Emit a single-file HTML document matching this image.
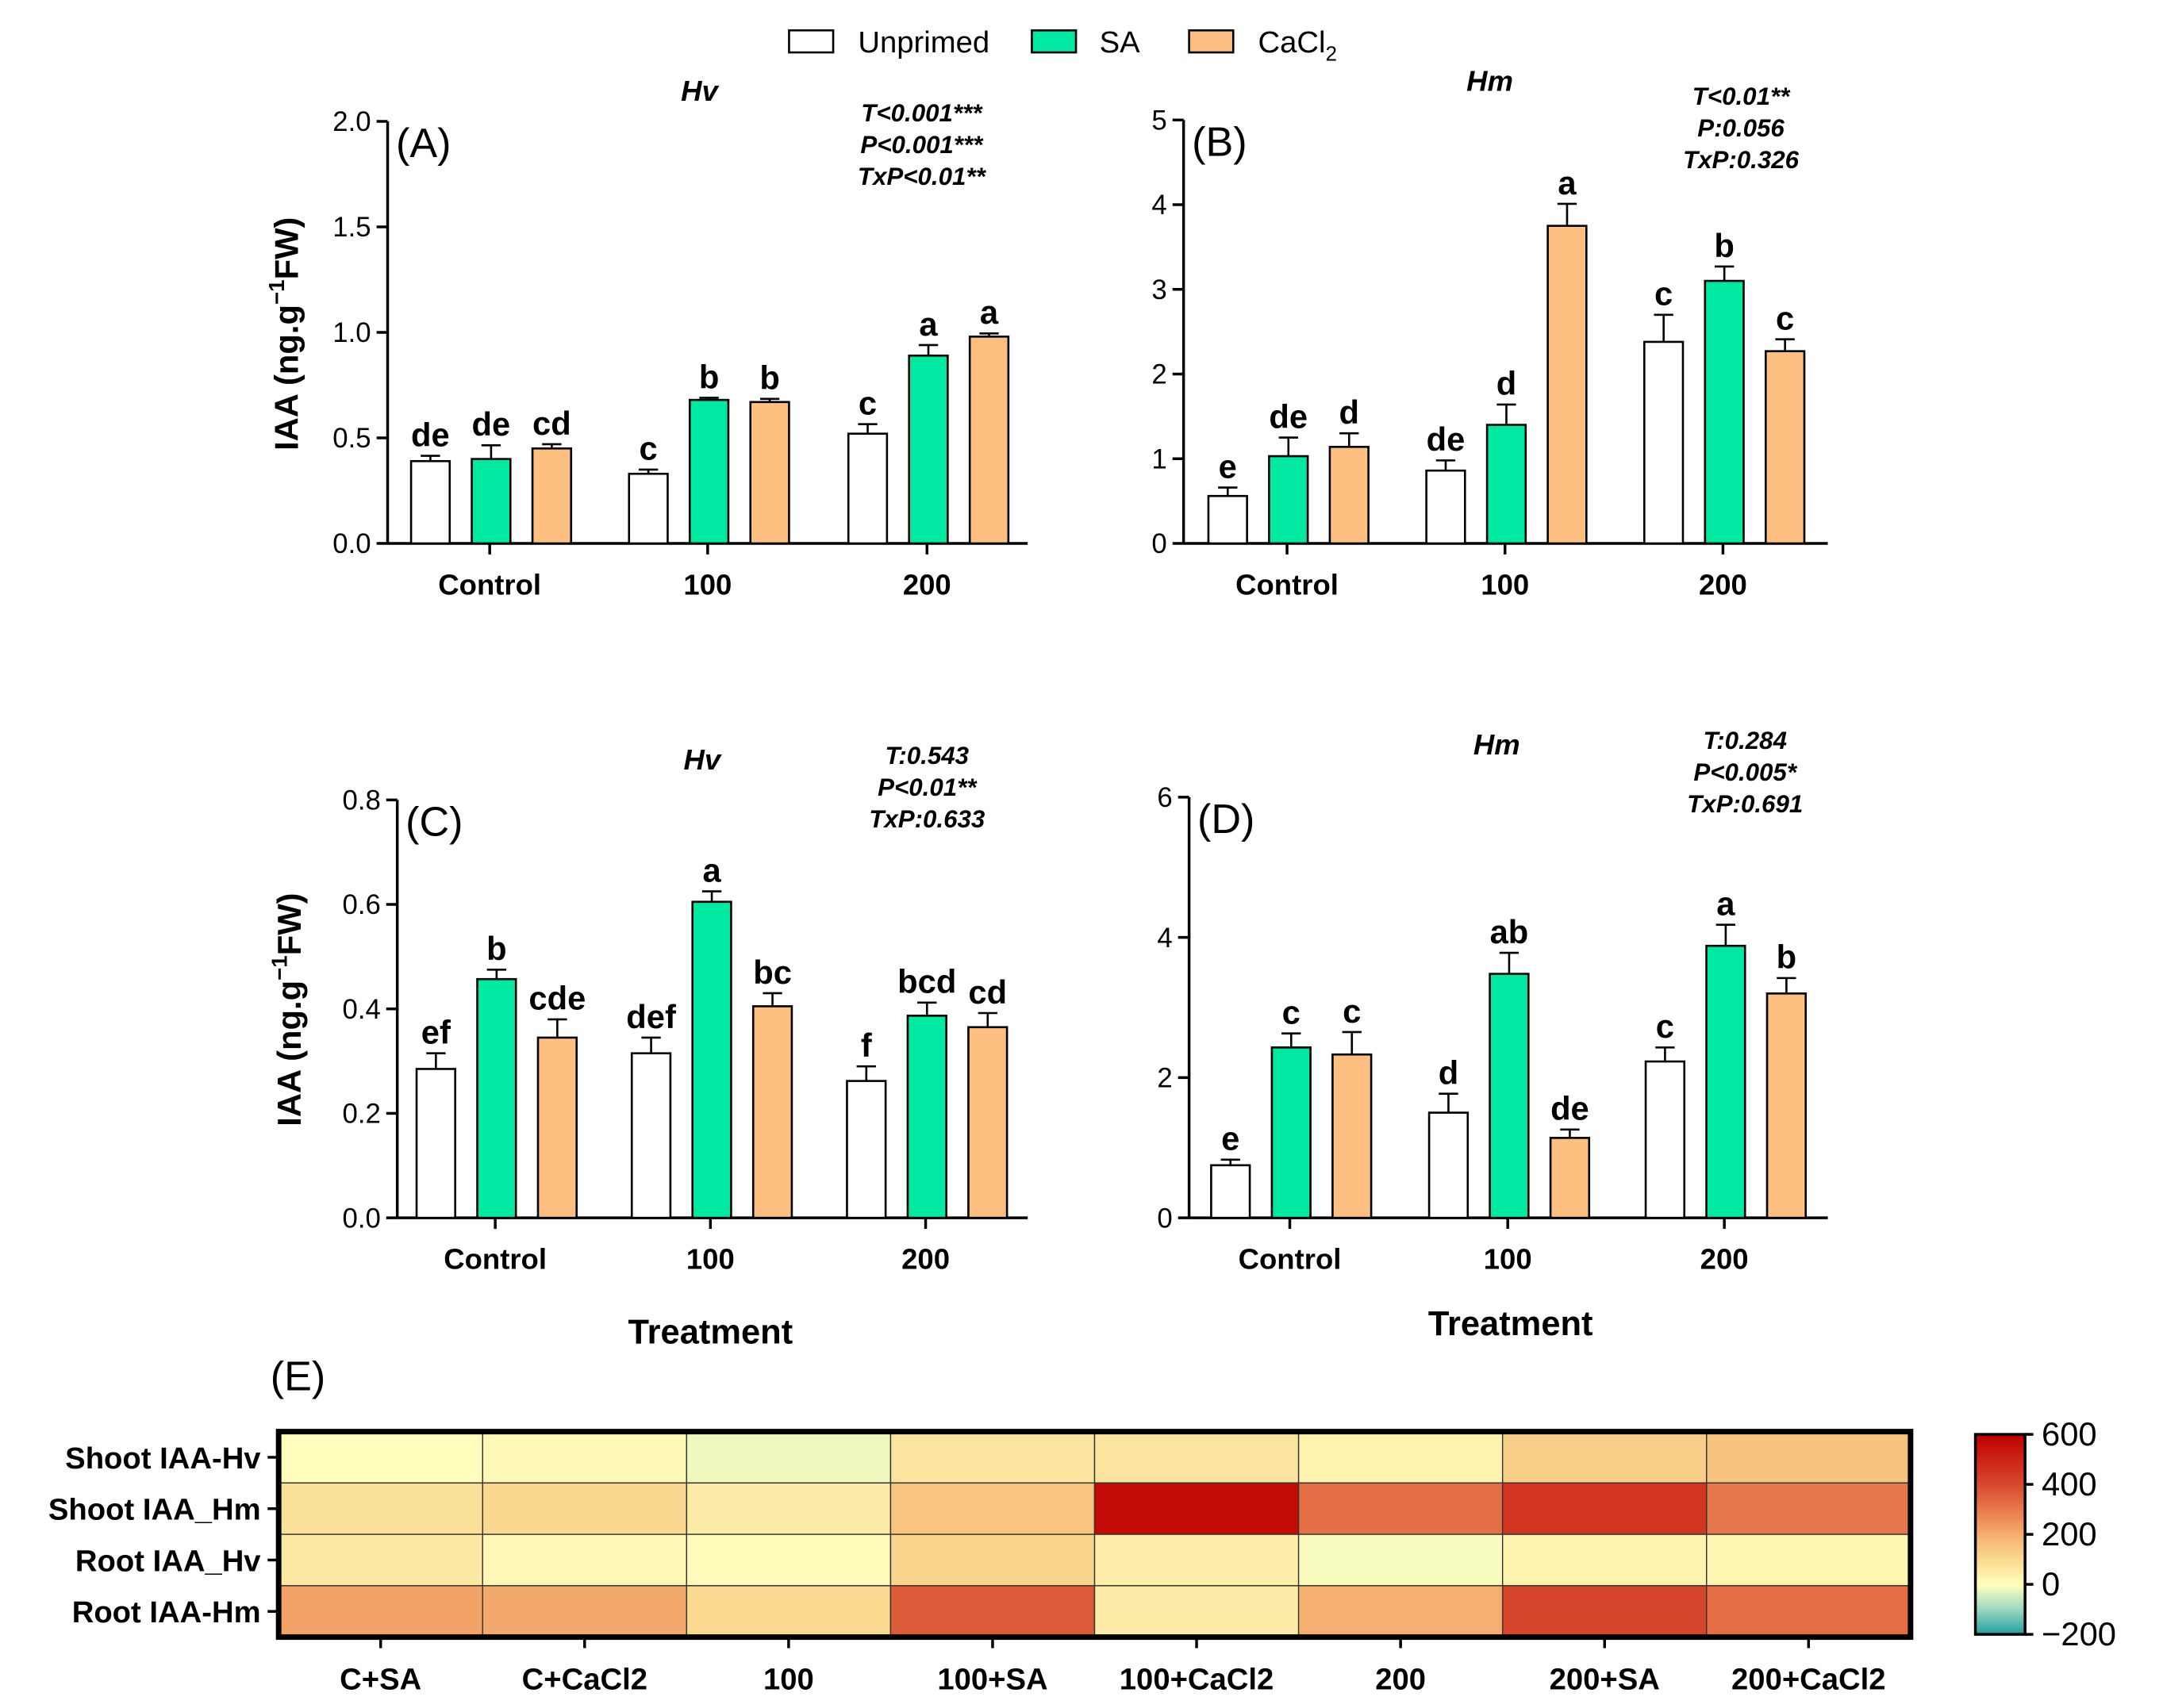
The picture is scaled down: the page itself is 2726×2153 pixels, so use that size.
<!DOCTYPE html>
<html><head><meta charset="utf-8"><style>
html,body{margin:0;padding:0;background:#fff}
svg{display:block;font-family:"Liberation Sans",Arial,sans-serif}
</style></head><body>
<svg id="chart" width="2726" height="2153" viewBox="0 0 1568 1238.4" xmlns="http://www.w3.org/2000/svg">
<g>
<rect x="572" y="22" width="32" height="16" fill="#fff" stroke="#000" stroke-width="1.5"/>
<text x="622" y="38" font-size="22">Unprimed</text>
<rect x="748" y="22" width="32" height="16" fill="#00e9a3" stroke="#000" stroke-width="1.5"/>
<text x="797" y="38" font-size="22">SA</text>
<rect x="862" y="22" width="32" height="16" fill="#ffbf80" stroke="#000" stroke-width="1.5"/>
<text x="912" y="38" font-size="22">CaCl<tspan font-size="15" dy="6">2</tspan></text>
</g>
</svg>
<script>
const groups=['Control','100','200'];
const seriesNames=['Unprimed','SA','CaCl2'];
const colors=['#ffffff','#00e9a3','#ffbf80'];
// Panel A
const aVals=[[0.39,0.33,0.52],[0.40,0.68,0.89],[0.45,0.67,0.98]];
const aErr=[[0.025,0.02,0.045],[0.065,0.01,0.05],[0.02,0.015,0.015]];
const aLet=[['de','c','c'],['de','b','a'],['cd','b','a']];
const aTicks=[0,0.5,1.0,1.5,2.0];
// Panel B
const bVals=[[0.56,0.86,2.38],[1.03,1.40,3.10],[1.14,3.75,2.27]];
const bErr=[[0.1,0.12,0.32],[0.22,0.24,0.17],[0.16,0.26,0.14]];
const bLet=[['e','de','c'],['de','d','b'],['d','a','c']];
const bTicks=[0,1,2,3,4,5];
// Panel C
const cVals=[[0.285,0.315,0.262],[0.457,0.605,0.387],[0.345,0.405,0.365]];
const cErr=[[0.03,0.03,0.028],[0.018,0.02,0.025],[0.035,0.025,0.027]];
const cLet=[['ef','def','f'],['b','a','bcd'],['cde','bc','cd']];
const cTicks=[0,0.2,0.4,0.6,0.8];
// Panel D
const dVals=[[0.75,1.50,2.23],[2.43,3.48,3.88],[2.33,1.14,3.20]];
const dErr=[[0.08,0.27,0.2],[0.2,0.3,0.3],[0.32,0.12,0.22]];
const dLet=[['e','d','c'],['c','ab','a'],['c','de','b']];
const dTicks=[0,2,4,6];
// Heatmap
const hmRows=['Shoot IAA-Hv','Shoot IAA_Hm','Root IAA_Hv','Root IAA-Hm'];
const hmCols=['C+SA','C+CaCl2','100','100+SA','100+CaCl2','200','200+SA','200+CaCl2'];
const hmVals=[[3,16,-15,74,72,33,128,151],[84,104,54,150,570,325,454,305],[60,21,10,112,42,-8,36,28],[224,211,100,364,52,197,417,327]];
const cbTicks=[600,400,200,0,-200];

const svg=document.getElementById('chart');
const NS='http://www.w3.org/2000/svg';
function mk(tag,attrs,parent,txt){const e=document.createElementNS(NS,tag);for(const k in attrs)e.setAttribute(k,attrs[k]);if(txt!==undefined)e.textContent=txt;(parent||svg).appendChild(e);return e;}

function panel(cfg){
  const g=mk('g',{});
  
  
  const max=cfg.ticks[cfg.ticks.length-1];
  const y=v=>cfg.y0-(v/max)*(cfg.y0-cfg.yTop);
  mk('line',{x1:cfg.x0,y1:cfg.y0,x2:cfg.x0,y2:cfg.yTop,stroke:'#000','stroke-width':2},g);
  mk('line',{x1:cfg.x0,y1:cfg.y0,x2:cfg.x1,y2:cfg.y0,stroke:'#000','stroke-width':2},g);
  cfg.ticks.forEach(t=>{
    mk('line',{x1:cfg.x0-8,y1:y(t),x2:cfg.x0,y2:y(t),stroke:'#000','stroke-width':2},g);
    const tl=mk('text',{x:cfg.x0-12,y:y(t)+7,'font-size':20,'text-anchor':'end'},g,cfg.fmt(t));
    
    
  });
  groups.forEach((gn,gi)=>{
    const cx=cfg.cx[gi];
    mk('line',{x1:cx,y1:cfg.y0,x2:cx,y2:cfg.y0+8,stroke:'#000','stroke-width':2},g);
    const xl=mk('text',{x:cx,y:cfg.y0+37,'font-size':21,'font-weight':'bold','text-anchor':'middle'},g,gn);
    
    
    for(let s=0;s<3;s++){
      const v=cfg.vals[s][gi],e=cfg.err[s][gi];
      const bx=cx-57+s*44;
      const r=mk('rect',{x:bx,y:y(v),width:28,height:cfg.y0-y(v),fill:colors[s],stroke:'#000','stroke-width':1.5},g);
      
      
      const bc=bx+14;
      mk('line',{x1:bc,y1:y(v),x2:bc,y2:y(v+e),stroke:'#000','stroke-width':1.5},g);
      mk('line',{x1:bc-7,y1:y(v+e),x2:bc+7,y2:y(v+e),stroke:'#000','stroke-width':1.5},g);
      const lt=mk('text',{x:bc,y:y(v+e)-7,'font-size':24,'font-weight':'bold','text-anchor':'middle'},g,cfg.lets[s][gi]);
      
      
    }
  });
  mk('text',{x:cfg.x0+6,y:cfg.yTop+26,'font-size':30},g,'('+cfg.id+')');
  mk('text',{x:cfg.titleX,y:cfg.titleY,'font-size':21,'font-weight':'bold','font-style':'italic','text-anchor':'middle'},g,cfg.title);
  cfg.stats.forEach((s,i)=>mk('text',{x:cfg.statX,y:cfg.statY+i*23,'font-size':18,'font-weight':'bold','font-style':'italic','text-anchor':'middle'},g,s));
  if(cfg.ylab){
    const t=mk('text',{transform:`translate(${cfg.ylabX},${cfg.ylabY}) rotate(-90)`,'font-size':24,'font-weight':'bold','text-anchor':'middle'},g);
    
    
    t.innerHTML='IAA (ng.g<tspan font-size="16" dy="-10">−1</tspan><tspan dy="10">FW)</tspan>';
  }
  if(cfg.xlab){
    const t=mk('text',{x:cfg.xlabX,y:cfg.xlabY,'font-size':25,'font-weight':'bold','text-anchor':'middle'},g,'Treatment');
    
    
  }
}
const f1=t=>t.toFixed(1), f0=t=>String(t);
panel({id:'A',x0:281,x1:745,y0:394,yTop:88,ticks:aTicks,fmt:f1,vals:aVals,err:aErr,lets:aLet,cx:[355,513,672],title:'Hv',titleX:507,titleY:73,stats:['T<0.001***','P<0.001***','TxP<0.01**'],statX:668,statY:88,ylab:true,ylabX:216,ylabY:242});
panel({id:'B',x0:858,x1:1325,y0:394,yTop:87,ticks:bTicks,fmt:f0,vals:bVals,err:bErr,lets:bLet,cx:[933,1091,1249],title:'Hm',titleX:1080,titleY:66,stats:['T<0.01**','P:0.056','TxP:0.326'],statX:1262,statY:76});
panel({id:'C',x0:288,x1:745,y0:883,yTop:580,ticks:cTicks,fmt:f1,vals:cVals,err:cErr,lets:cLet,cx:[359,515,671],title:'Hv',titleX:509,titleY:558,stats:['T:0.543','P<0.01**','TxP:0.633'],statX:672,statY:554,ylab:true,ylabX:218,ylabY:732,xlab:true,xlabX:515,xlabY:974});
panel({id:'D',x0:862,x1:1325,y0:883,yTop:578,ticks:dTicks,fmt:f0,vals:dVals,err:dErr,lets:dLet,cx:[935,1093,1250],title:'Hm',titleX:1085,titleY:547,stats:['T:0.284','P<0.005*','TxP:0.691'],statX:1265,statY:543,xlab:true,xlabX:1095,xlabY:968});

// heatmap
const stops=[[-200,[31,158,158]],[-100,[150,215,190]],[0,[255,255,190]],[100,[250,218,145]],[200,[245,175,112]],[300,[232,122,76]],[400,[216,74,48]],[600,[192,0,0]]];
function col(v){v=Math.max(-200,Math.min(600,v));for(let i=0;i<stops.length-1;i++){const[a,ca]=stops[i],[b,cb]=stops[i+1];if(v<=b){const t=(v-a)/(b-a);return 'rgb('+ca.map((c,k)=>Math.round(c+(cb[k]-c)*t)).join(',')+')';}}return 'rgb(192,0,0)';}
const hg=mk('g',{});


const hx0=202,hx1=1385,hy0=1038,hy1=1187,cw=(hx1-hx0)/hmCols.length,rh=(hy1-hy0)/hmRows.length;
mk('text',{x:196,y:1008,'font-size':30},hg,'(E)');
hmRows.forEach((rn,r)=>{
  hmCols.forEach((cn,c)=>{
    const cell=mk('rect',{x:hx0+c*cw,y:hy0+r*rh,width:cw,height:rh,fill:col(hmVals[r][c]),stroke:'#333','stroke-width':0.8},hg);
    
    
  });
  const yc=hy0+(r+0.5)*rh;
  mk('line',{x1:hx0-8,y1:yc,x2:hx0,y2:yc,stroke:'#000','stroke-width':2},hg);
  const rl=mk('text',{x:hx0-13,y:yc+8,'font-size':22,'font-weight':'bold','text-anchor':'end'},hg,rn);
  
  
});
hmCols.forEach((cn,c)=>{
  const xc=hx0+(c+0.5)*cw;
  mk('line',{x1:xc,y1:hy1,x2:xc,y2:hy1+8,stroke:'#000','stroke-width':2},hg);
  const cl=mk('text',{x:xc,y:hy1+38,'font-size':22,'font-weight':'bold','text-anchor':'middle'},hg,cn);
  
  
});
mk('rect',{x:hx0,y:hy0,width:hx1-hx0,height:hy1-hy0,fill:'none',stroke:'#000','stroke-width':4},hg);
// colorbar
const cbg=mk('g',{});


const cbx=1432,cbw=36,cbTop=1040,cbBot=1185;
const cy=v=>cbBot-(v+200)/800*(cbBot-cbTop);
for(let v=-200;v<600;v+=5){mk('rect',{x:cbx,y:cy(v+5),width:cbw,height:cy(v)-cy(v+5)+0.6,fill:col(v+2.5)},cbg);}
mk('rect',{x:cbx,y:cbTop,width:cbw,height:cbBot-cbTop,fill:'none',stroke:'#000','stroke-width':2},cbg);
cbTicks.forEach(t=>{
  mk('line',{x1:cbx+cbw,y1:cy(t),x2:cbx+cbw+6,y2:cy(t),stroke:'#000','stroke-width':2},cbg);
  mk('text',{x:cbx+cbw+12,y:cy(t)+8,'font-size':24},cbg,t<0?'−'+Math.abs(t):String(t));
});
</script>
</body></html>
